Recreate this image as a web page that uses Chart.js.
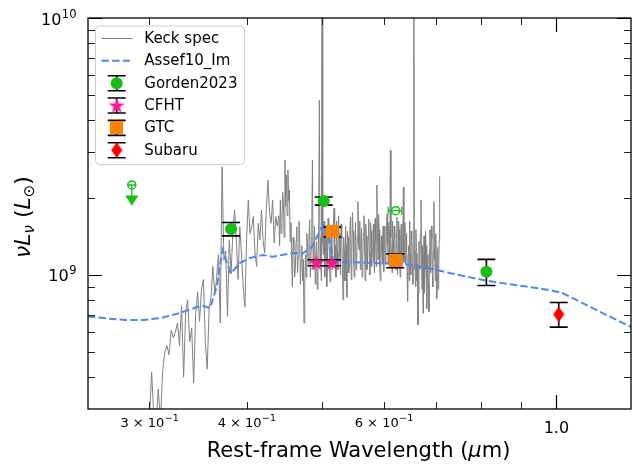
<!DOCTYPE html>
<html>
<head>
<meta charset="utf-8">
<title>SED</title>
<script src="https://cdn.jsdelivr.net/npm/chart.js@4.4.1/dist/chart.umd.min.js"></script>
<style>
html,body{margin:0;padding:0;background:#ffffff;overflow:hidden;}
#c{display:block;}
</style>
</head>
<body>
<canvas id="c" width="632" height="464"></canvas>
<script>
// Luminosities below are given in units of 1e9 L_sun
const LUM_UNIT = 1e9;

// Keck spectrum (rest-frame wavelength in micron, nuL_nu in 1e9 Lsun)
const specWave = [
0.300,0.302,0.304,0.306,0.308,0.310,0.312,0.314,0.316,0.318,
0.320,0.322,0.324,0.326,0.328,0.330,0.332,0.334,0.336,0.338,
0.340,0.342,0.344,0.346,0.348,0.350,0.352,0.354,0.356,0.358,
0.360,0.362,0.364,0.366,0.368,0.370,0.372,0.374,0.376,0.378,
0.380,0.382,0.384,0.386,0.388,0.390,0.392,0.394,0.396,0.398,
0.400,0.402,0.404,0.406,0.408,0.410,0.412,0.414,0.416,0.418,
0.420,0.422,0.424,0.426,0.428,0.430,0.432,0.434,0.436,0.438,
0.440,0.441,0.442,0.443,0.444,0.445,0.446,0.447,0.448,0.449,
0.450,0.451,0.452,0.453,0.454,0.455,0.456,0.457,0.458,0.459,
0.460,0.461,0.462,0.463,0.464,0.465,0.466,0.467,0.468,0.469,
0.470,0.471,0.472,0.473,0.474,0.475,0.476,0.477,0.478,0.479,
0.480,0.481,0.482,0.483,0.484,0.485,0.486,0.487,0.488,0.489,
0.490,0.491,0.492,0.493,0.494,0.495,0.496,0.497,0.498,0.499,
0.500,0.501,0.502,0.503,0.504,0.505,0.506,0.507,0.508,0.509,
0.510,0.511,0.512,0.513,0.514,0.515,0.516,0.517,0.518,0.519,
0.520,0.521,0.522,0.523,0.524,0.525,0.526,0.527,0.528,0.529,
0.530,0.531,0.532,0.533,0.534,0.535,0.536,0.537,0.538,0.539,
0.540,0.541,0.542,0.543,0.544,0.545,0.546,0.547,0.548,0.549,
0.550,0.551,0.552,0.553,0.554,0.555,0.556,0.557,0.558,0.559,
0.560,0.561,0.562,0.563,0.564,0.565,0.566,0.567,0.568,0.569,
0.570,0.571,0.572,0.573,0.574,0.575,0.576,0.577,0.578,0.579,
0.580,0.581,0.582,0.583,0.584,0.585,0.586,0.587,0.588,0.589,
0.590,0.591,0.592,0.593,0.594,0.595,0.596,0.597,0.598,0.599,
0.600,0.601,0.602,0.603,0.604,0.605,0.606,0.607,0.608,0.609,
0.610,0.611,0.612,0.613,0.614,0.615,0.616,0.617,0.618,0.619,
0.620,0.621,0.622,0.623,0.624,0.625,0.626,0.627,0.628,0.629,
0.630,0.631,0.632,0.633,0.634,0.635,0.636,0.637,0.638,0.639,
0.640,0.641,0.642,0.643,0.644,0.645,0.646,0.647,0.648,0.649,
0.650,0.651,0.652,0.653,0.654,0.655,0.656,0.657,0.658,0.659,
0.660,0.661,0.662,0.663,0.664,0.665,0.666,0.667,0.668,0.669,
0.670,0.671,0.672,0.673,0.674,0.675,0.676,0.677,0.678,0.679,
0.680,0.681,0.682,0.683,0.684,0.685,0.686,0.687,0.688,0.689,
0.690,0.691,0.692,0.693,0.694,0.695,0.696,0.697,0.698,0.699,
0.700,0.701,0.702,0.703,0.704,0.705,0.706,0.707,0.708
];
const specLum = [
0.27,0.42,0.28,0.26,0.36,0.27,0.42,0.50,0.53,0.49,
0.61,0.57,0.60,0.65,0.53,0.76,0.40,0.72,0.80,0.55,
0.62,0.38,0.70,0.86,0.66,0.88,0.96,0.55,0.43,0.74,
0.82,1.08,0.84,0.97,1.20,0.65,2.64,1.14,1.24,0.69,
1.37,1.01,1.45,1.79,1.37,0.96,1.54,1.20,0.90,0.75,
1.40,1.96,1.45,1.54,1.69,1.22,1.08,1.59,1.37,1.79,
1.35,1.22,1.80,2.34,1.75,1.59,1.96,1.33,1.69,1.55,
1.70,1.30,1.96,1.45,1.55,2.10,1.90,1.40,2.80,1.85,
2.45,1.70,2.56,1.95,2.14,1.35,1.60,1.12,0.90,1.40,
1.25,0.98,1.05,1.36,1.54,1.02,1.18,1.62,1.40,0.92,
1.14,1.30,0.95,1.15,0.65,0.88,1.20,0.98,1.45,1.28,
1.10,1.40,1.64,0.98,1.25,1.50,2.80,1.05,1.30,1.55,
0.92,1.18,1.35,0.88,1.05,1.45,4.79,1.10,1.40,0.95,
12.0,1.35,1.20,1.62,0.98,1.28,1.55,0.90,1.10,1.66,
1.40,1.22,0.94,1.35,1.50,1.05,1.20,1.58,1.82,1.15,
1.30,0.98,1.62,1.22,1.05,1.70,1.45,1.18,1.00,1.58,
1.38,1.10,0.80,1.40,1.25,0.95,1.55,1.30,0.82,1.48,
1.40,1.02,1.10,1.52,1.68,0.96,1.20,1.75,1.48,1.12,
0.98,1.36,1.60,1.05,1.15,1.42,1.93,1.30,1.25,1.62,
1.05,1.30,1.52,0.98,1.18,1.45,1.70,1.25,0.95,1.58,
1.42,1.05,1.12,1.38,1.65,1.22,1.00,1.60,1.48,1.08,
1.20,1.40,1.58,1.12,1.02,1.66,1.35,1.08,2.24,1.45,
1.15,1.72,1.50,1.08,0.95,1.30,1.42,1.20,1.10,1.55,
1.03,1.32,1.55,1.10,1.25,1.48,1.72,1.30,1.10,1.60,
1.45,1.18,3.06,1.40,1.20,1.02,1.62,1.35,1.15,1.55,
1.40,1.18,1.05,1.45,1.68,1.00,1.22,1.62,1.50,1.15,
0.98,1.38,1.58,1.08,1.30,1.45,2.20,1.12,1.35,1.60,
1.10,1.28,1.45,1.02,0.79,1.20,1.30,0.95,1.62,1.20,
1.00,1.48,1.38,1.10,0.92,1.35,12.0,1.05,1.25,0.90,
1.50,1.22,0.95,1.10,0.64,0.85,1.35,1.05,1.15,1.45,
1.96,1.20,0.88,1.30,0.71,1.10,1.42,0.85,1.05,1.48,
1.30,1.00,0.74,1.12,1.20,0.92,0.72,1.25,1.50,1.02,
1.10,1.55,1.38,0.98,0.90,1.25,1.93,1.30,1.15,0.95,
1.45,1.10,0.81,1.20,1.28,0.88,0.95,1.35,2.42
];

// Assef10 Im template
const assefWave = [0.2502,0.265,0.28,0.295,0.31,0.325,0.34,0.35,0.359,0.366,0.3725,0.377,0.3815,0.392,0.404,0.42,0.432,0.459,0.472,0.485,0.494,0.501,0.507,0.5115,0.5145,0.527,0.57,0.635,0.693,0.729,0.813,0.98,1.018,1.061,1.103,1.247];
const assefLum  = [0.69,0.677,0.668,0.668,0.68,0.705,0.737,0.761,0.744,0.898,1.251,1.124,1.013,1.113,1.165,1.196,1.178,1.218,1.212,1.285,1.431,1.565,1.565,1.332,1.196,1.126,1.117,1.104,1.055,1.018,0.95,0.874,0.851,0.80,0.753,0.628];

// Photometry
const gordenWave = [0.382,0.5025,0.813];
const gordenLum  = [1.51,1.94,1.03];
const gordenErrLo = [0.09,0.07,0.12];
const gordenErrHi = [0.09,0.07,0.12];

const cfhtWave = [0.4918,0.515];
const cfhtLum  = [1.117,1.117];
const cfhtErr  = [0.03,0.03];

const gtcWave = [0.5155,0.6208];
const gtcLum  = [1.47,1.137];
const gtcErr  = [0.065,0.07];

const subaruWave = [1.007];
const subaruLum  = [0.703];
const subaruErrLo = [0.076];
const subaruErrHi = [0.079];

// Gorden2023 open symbols (limits)
const limWave = [0.2848,0.6216];
const limLum  = [2.24,1.78];
const limXLo  = [0.2848,0.6081];
const limXHi  = [0.2848,0.6328];
const limArrowWave = [0.2848];
const limArrowLum  = [1.95];

// Axes
const xRange = [0.2502,1.247];
const yRange = [0.301,10];
const xMinorTicks = [0.3,0.4,0.5,0.6,0.7,0.8,0.9];
const xMajorTicks = [1.0];
const xLabelVals = [0.3,0.4,0.6,1.0];
const xLabelBase = ['3 \u00d7 10','4 \u00d7 10','6 \u00d7 10','1.0'];
const xLabelExp  = ['\u22121','\u22121','\u22121',''];
const yMajorTicks = [1,10];
const yMinorTicks = [0.4,0.5,0.6,0.7,0.8,0.9,2,3,4,5,6,7,8,9];
const yLabelVals = [1,10];
const yLabelBase = ['10','10'];
const yLabelExp  = ['9','10'];
const legendLabels = ['Keck spec','Assef10_Im','Gorden2023','CFHT','GTC','Subaru'];

// ---- styles ----
const GRAY='#808080', BLUE='#4c87f3', GREEN='#14c014', PINK='#ff1493', ORANGE='#ff7f00', RED='#ff0000';
const FONT='"DejaVu Sans", sans-serif';

function mk(w,h,draw){const c=document.createElement('canvas');c.width=w;c.height=h;draw(c.getContext('2d'),w,h);return c;}
function starPath(g,cx,cy,R){const r=R*0.382;g.beginPath();for(let i=0;i<10;i++){const a=-Math.PI/2+i*Math.PI/5;const rr=i%2?r:R;g.lineTo(cx+rr*Math.cos(a),cy+rr*Math.sin(a));}g.closePath();}
const starImg = mk(18,18,(g)=>{g.fillStyle=PINK;starPath(g,9,9.6,8.4);g.fill();});
const sqImg   = mk(13,13,(g)=>{g.fillStyle=ORANGE;g.fillRect(0,0,13,13);});
const diaImg  = mk(12,16,(g)=>{g.fillStyle=RED;g.beginPath();g.moveTo(6,0.3);g.lineTo(11.6,8);g.lineTo(6,15.7);g.lineTo(0.4,8);g.closePath();g.fill();});
const triImg  = mk(14,11,(g)=>{g.fillStyle=GREEN;g.beginPath();g.moveTo(0.3,0.5);g.lineTo(13.7,0.5);g.lineTo(7,10.7);g.closePath();g.fill();});

const pts = (xs,ys)=>xs.map((x,i)=>({x:x,y:ys[i]*LUM_UNIT}));

function drawErrors(chart){
  const ctx=chart.ctx, sx=chart.scales.x, sy=chart.scales.y;
  ctx.save();
  const vbar=(xs,ys,lo,hi,color,lw,cap)=>{
    ctx.strokeStyle=color; ctx.lineWidth=lw;
    xs.forEach((x,i)=>{
      const px=sx.getPixelForValue(x);
      const y1=sy.getPixelForValue((ys[i]+hi[i])*LUM_UNIT);
      const y0=sy.getPixelForValue((ys[i]-lo[i])*LUM_UNIT);
      ctx.beginPath();
      ctx.moveTo(px,y0);ctx.lineTo(px,y1);
      ctx.moveTo(px-cap,y0);ctx.lineTo(px+cap,y0);
      ctx.moveTo(px-cap,y1);ctx.lineTo(px+cap,y1);
      ctx.stroke();
    });
  };
  vbar(gordenWave,gordenLum,gordenErrLo,gordenErrHi,'#000',1.6,9);
  vbar(cfhtWave,cfhtLum,cfhtErr,cfhtErr,'#000',1.6,9);
  vbar(gtcWave,gtcLum,gtcErr,gtcErr,'#000',1.6,9);
  vbar(subaruWave,subaruLum,subaruErrLo,subaruErrHi,'#000',1.6,9);
  // limits
  ctx.strokeStyle=GREEN; ctx.lineWidth=1.3;
  limWave.forEach((x,i)=>{
    const py=sy.getPixelForValue(limLum[i]*LUM_UNIT);
    const xl=sx.getPixelForValue(limXLo[i]), xh=sx.getPixelForValue(limXHi[i]);
    ctx.beginPath();
    if (xh-xl>1){
      ctx.moveTo(xl,py);ctx.lineTo(xh,py);
      ctx.moveTo(xl,py-4);ctx.lineTo(xl,py+4);
      ctx.moveTo(xh,py-4);ctx.lineTo(xh,py+4);
    }
    ctx.stroke();
  });
  limArrowWave.forEach((x,i)=>{
    const px=sx.getPixelForValue(x);
    const y0=sy.getPixelForValue(limLum[i]*LUM_UNIT);
    const y1=sy.getPixelForValue(limArrowLum[i]*LUM_UNIT);
    ctx.beginPath();
    ctx.moveTo(px-4,y0);ctx.lineTo(px+4,y0);
    ctx.moveTo(px,y0);ctx.lineTo(px,y1);
    ctx.stroke();
  });
  ctx.restore();
}

function supText(ctx,x,y,base,exp,fs,efs,align,rise){
  ctx.font=fs+'px '+FONT; const wb=ctx.measureText(base).width;
  ctx.font=efs+'px '+FONT; const we=exp?ctx.measureText(exp).width:0;
  const tot=wb+we;
  const x0 = align==='right'?x-tot:(align==='center'?x-tot/2:x);
  ctx.textAlign='left'; ctx.textBaseline='alphabetic';
  ctx.font=fs+'px '+FONT; ctx.fillText(base,x0,y);
  if(exp){ctx.font=efs+'px '+FONT; ctx.fillText(exp,x0+wb+0.5,y-rise);}
}

function drawSegments(ctx,segs,x,y,align){
  let tot=0;
  segs.forEach(s=>{ctx.font=(s[2]?'italic ':'')+s[1]+'px '+FONT; s.w=ctx.measureText(s[0]).width; tot+=s.w;});
  let cx = align==='center'?x-tot/2:x;
  ctx.textAlign='left'; ctx.textBaseline='alphabetic';
  segs.forEach(s=>{ctx.font=(s[2]?'italic ':'')+s[1]+'px '+FONT; ctx.fillText(s[0],cx,y+(s[3]||0)); cx+=s.w;});
}

function drawLegend(ctx){
  const bx=95.5,by=26,bw=149,bh=138.5,r=4;
  ctx.save();
  ctx.beginPath();
  ctx.moveTo(bx+r,by);ctx.lineTo(bx+bw-r,by);ctx.quadraticCurveTo(bx+bw,by,bx+bw,by+r);
  ctx.lineTo(bx+bw,by+bh-r);ctx.quadraticCurveTo(bx+bw,by+bh,bx+bw-r,by+bh);
  ctx.lineTo(bx+r,by+bh);ctx.quadraticCurveTo(bx,by+bh,bx,by+bh-r);
  ctx.lineTo(bx,by+r);ctx.quadraticCurveTo(bx,by,bx+r,by);ctx.closePath();
  ctx.fillStyle='rgba(255,255,255,0.8)';ctx.fill();
  ctx.strokeStyle='#cccccc';ctx.lineWidth=1;ctx.stroke();
  const hx0=101.5,hx1=132.5,mx=116.7,tx=144.3;
  const ys=legendLabels.map((t,i)=>38.5+i*22.35);
  ctx.strokeStyle=GRAY;ctx.lineWidth=1;ctx.beginPath();ctx.moveTo(hx0,ys[0]);ctx.lineTo(hx1,ys[0]);ctx.stroke();
  ctx.strokeStyle=BLUE;ctx.lineWidth=2;ctx.setLineDash([7.4,3.2]);ctx.beginPath();ctx.moveTo(hx0,ys[1]);ctx.lineTo(hx1,ys[1]);ctx.stroke();ctx.setLineDash([]);
  for(let i=2;i<6;i++){
    const y=ys[i];ctx.strokeStyle='#000';ctx.lineWidth=1.6;ctx.beginPath();
    ctx.moveTo(mx,y-7.5);ctx.lineTo(mx,y+7.5);
    ctx.moveTo(mx-9,y-7.5);ctx.lineTo(mx+9,y-7.5);
    ctx.moveTo(mx-9,y+7.5);ctx.lineTo(mx+9,y+7.5);
    ctx.stroke();
  }
  ctx.fillStyle=GREEN;ctx.beginPath();ctx.arc(mx,ys[2],6,0,Math.PI*2);ctx.fill();
  ctx.drawImage(starImg,mx-9,ys[3]-9);
  ctx.drawImage(sqImg,mx-6.5,ys[4]-6.5);
  ctx.drawImage(diaImg,mx-6,ys[5]-8);
  ctx.fillStyle='#000';ctx.font='15px '+FONT;ctx.textAlign='left';ctx.textBaseline='middle';
  legendLabels.forEach((t,i)=>ctx.fillText(t,tx,ys[i]+0.5));
  ctx.restore();
}

const decor = {
  id:'decor',
  afterDatasetDraw(chart,args){
    if(chart.data.datasets[args.index].label==='Assef10_Im') drawErrors(chart);
  },
  afterDraw(chart){
    const ctx=chart.ctx, a=chart.chartArea, sx=chart.scales.x, sy=chart.scales.y;
    ctx.save();
    const tick=(v,len,lw,col,axis)=>{
      ctx.strokeStyle=col;ctx.lineWidth=lw;ctx.beginPath();
      if(axis==='x'){const p=Math.round(sx.getPixelForValue(v))+0.5;
        ctx.moveTo(p,a.bottom);ctx.lineTo(p,a.bottom-len);ctx.moveTo(p,a.top);ctx.lineTo(p,a.top+len);}
      else{const p=Math.round(sy.getPixelForValue(v*LUM_UNIT))+0.5;
        ctx.moveTo(a.left,p);ctx.lineTo(a.left+len,p);ctx.moveTo(a.right,p);ctx.lineTo(a.right-len,p);}
      ctx.stroke();
    };
    xMinorTicks.forEach(v=>tick(v,7,1,'#222','x'));
    xMajorTicks.forEach(v=>tick(v,14,1.2,'#000','x'));
    yMinorTicks.forEach(v=>tick(v,7,1,'#222','y'));
    yMajorTicks.forEach(v=>tick(v,14,1.2,'#000','y'));
    ctx.strokeStyle='#000';ctx.lineWidth=1.3;
    ctx.strokeRect(a.left,a.top,a.right-a.left,a.bottom-a.top);
    ctx.fillStyle='#000';
    xLabelVals.forEach((v,i)=>{
      const p=sx.getPixelForValue(v);
      if(xLabelExp[i]) supText(ctx,p,427,xLabelBase[i],xLabelExp[i],13,9.5,'center',6);
      else supText(ctx,p,432.5,xLabelBase[i],'',16,11,'center',0);
    });
    yLabelVals.forEach((v,i)=>{
      const p=sy.getPixelForValue(v*LUM_UNIT);
      supText(ctx,76,p+6.5,yLabelBase[i],yLabelExp[i],16,11.5,'right',7);
    });
    drawSegments(ctx,[['Rest-frame Wavelength (',21,false],['\u03bc',21,true],['m)',21,false]],358.5,457,'center');
    ctx.save();ctx.translate(30,217);ctx.rotate(-Math.PI/2);
    drawSegments(ctx,[['\u03bdL',22,true],['\u03bd',15,true,4],[' (',22,false],['L',22,true],['\u2299',15,false,4],[')',22,false]],0,0,'center');
    ctx.restore();
    drawLegend(ctx);
    ctx.restore();
  }
};

new Chart(document.getElementById('c'),{
  type:'scatter',
  data:{datasets:[
    {label:'Keck spec',data:pts(specWave,specLum),showLine:true,borderColor:GRAY,borderWidth:1,pointRadius:0,order:10},
    {label:'Assef10_Im',data:pts(assefWave,assefLum),showLine:true,borderColor:BLUE,borderWidth:2,borderDash:[7.4,3.2],pointRadius:0,order:9},
    {label:'Gorden2023 limits',data:pts(limWave,limLum),pointStyle:'circle',pointRadius:4,backgroundColor:'rgba(255,255,255,0)',borderColor:GREEN,borderWidth:1.5,order:4},
    {label:'Gorden2023 arrow',data:pts(limArrowWave,limArrowLum),pointStyle:triImg,pointRadius:6,order:4},
    {label:'Gorden2023',data:pts(gordenWave,gordenLum),pointStyle:'circle',pointRadius:6,backgroundColor:GREEN,borderColor:GREEN,borderWidth:0,order:3},
    {label:'CFHT',data:pts(cfhtWave,cfhtLum),pointStyle:starImg,pointRadius:8,order:2},
    {label:'GTC',data:pts(gtcWave,gtcLum),pointStyle:sqImg,pointRadius:6,order:2},
    {label:'Subaru',data:pts(subaruWave,subaruLum),pointStyle:diaImg,pointRadius:6,order:1}
  ]},
  options:{
    responsive:false,animation:false,devicePixelRatio:1,events:[],
    layout:{autoPadding:false,padding:{left:88,right:1,top:18,bottom:55}},
    scales:{
      x:{type:'logarithmic',min:xRange[0],max:xRange[1],display:false},
      y:{type:'logarithmic',min:yRange[0]*LUM_UNIT,max:yRange[1]*LUM_UNIT,display:false}
    },
    plugins:{legend:{display:false},tooltip:{enabled:false}}
  },
  plugins:[decor]
});
</script>
</body>
</html>
